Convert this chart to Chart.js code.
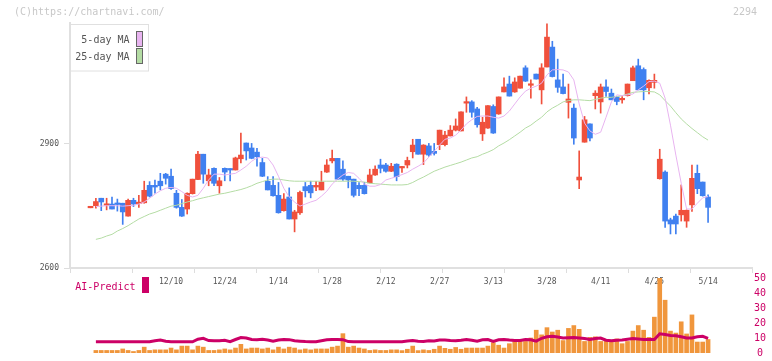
<!DOCTYPE html>
<html><head><meta charset="utf-8">
<script src="https://cdn.jsdelivr.net/npm/chart.js@4.4.1/dist/chart.umd.min.js"></script>
<style>
html,body{margin:0;padding:0;background:#fff;}
#wrap{position:relative;width:772px;height:361px;overflow:hidden;}
canvas{position:absolute;left:0;top:0;}
</style></head><body>
<div id="wrap"><canvas id="main" width="772" height="361"></canvas><canvas id="sub" width="772" height="361"></canvas></div>
<script>
const stockCode = '2294';
const dates = ['11/19','11/20','11/21','11/22','11/25','11/26','11/27','11/28','11/29',
 '12/2','12/3','12/4','12/5','12/6','12/9','12/10','12/11','12/12','12/13','12/16','12/17','12/18','12/19','12/20','12/23','12/24','12/25','12/26','12/27','12/30',
 '1/6','1/7','1/8','1/9','1/10','1/14','1/15','1/16','1/17','1/20','1/21','1/22','1/23','1/24','1/27','1/28','1/29','1/30','1/31',
 '2/3','2/4','2/5','2/6','2/7','2/10','2/12','2/13','2/14','2/17','2/18','2/19','2/20','2/21','2/25','2/26','2/27','2/28',
 '3/3','3/4','3/5','3/6','3/7','3/10','3/11','3/12','3/13','3/14','3/17','3/18','3/19','3/21','3/24','3/25','3/26','3/27','3/28','3/31',
 '4/1','4/2','4/3','4/4','4/7','4/8','4/9','4/10','4/11','4/14','4/15','4/16','4/17','4/18','4/21','4/22','4/23','4/24','4/25','4/28','4/30',
 '5/1','5/2','5/7','5/8','5/9','5/12','5/13','5/14'];
const dateTickLabels = ['12/10','12/24','1/14','1/28','2/12','2/27','3/13','3/28','4/11','4/25','5/14'];
const open = [2745,2750,2768,2751,2754,2756,2756,2725,2763,2755, 2757,2799,2799,2809,2826,2821,2780,2746,2742,2779,
 2813,2874,2810,2840,2798,2840,2839,2836,2863,2901, 2889,2879,2854,2809,2799,2775,2738,2771,2718,2733,
 2796,2799,2795,2788,2831,2858,2864,2838,2821,2814, 2799,2799,2805,2824,2848,2848,2833,2850,2841,2848,
 2880,2910,2874,2894,2881,2897,2897,2918,2932,2930, 2997,3000,2983,2923,2937,2989,2971,3024,3043,3024,
 3033,3082,3040,3067,3029,3084,3132,3053,3036,2999, 2985,2812,2903,2947,3015,3000,3036,3021,3012,3005,
 3015,3051,3087,3078,3034,3047,2815,2831,2716,2725, 2728,2713,2752,2828,2807,2771];
const high = [2747,2768,2768,2768,2771,2766,2756,2766,2768,2775, 2809,2808,2812,2828,2828,2838,2787,2765,2781,2814,
 2881,2874,2838,2841,2818,2841,2839,2867,2925,2901, 2900,2888,2864,2820,2820,2806,2779,2793,2739,2785,
 2806,2809,2809,2833,2861,2884,2864,2858,2821,2814, 2806,2806,2838,2846,2862,2852,2852,2851,2844,2867,
 2910,2910,2897,2900,2900,2932,2929,2943,2959,2976, 3012,3003,2987,2963,2991,2993,3012,3058,3062,3058,
 3062,3087,3053,3067,3092,3188,3146,3103,3067,3043, 2995,2882,2965,2947,3027,3043,3053,3031,3012,3013,
 3043,3086,3103,3082,3053,3067,2886,2834,2720,2730, 2800,2740,2848,2848,2807,2776];
const low = [2745,2744,2738,2740,2742,2737,2705,2725,2748,2746, 2756,2771,2780,2788,2802,2789,2744,2724,2730,2778,
 2813,2804,2798,2798,2780,2810,2810,2836,2853,2860, 2863,2845,2820,2788,2773,2732,2737,2718,2687,2729,
 2771,2769,2786,2788,2830,2853,2813,2811,2793,2771, 2774,2778,2805,2823,2829,2831,2832,2810,2830,2841,
 2865,2874,2849,2869,2872,2885,2894,2918,2930,2930, 2975,2963,2939,2907,2936,2924,2970,3024,3014,3023,
 3033,3049,3009,3055,2995,3084,3060,3023,3019,2961, 2898,2791,2903,2906,2983,2973,3013,3005,2993,2997,
 3014,3051,3029,3005,3019,3033,2814,2698,2682,2682, 2713,2698,2736,2779,2773,2710];
const close = [2747,2760,2759,2754,2742,2753,2735,2763,2754,2758, 2787,2773,2795,2798,2816,2791,2746,2725,2780,2814,
 2874,2826,2824,2804,2810,2831,2836,2865,2872,2882, 2864,2868,2821,2788,2774,2733,2766,2718,2735,2782,
 2786,2781,2799,2807,2848,2864,2814,2814,2812,2775, 2791,2779,2824,2838,2840,2833,2845,2820,2844,2859,
 2896,2874,2896,2872,2876,2932,2920,2932,2942,2976, 2999,2975,2945,2951,2991,2925,3012,3036,3014,3048,
 3062,3050,3042,3055,3082,3156,3061,3035,3020,3007, 2913,2819,2957,2913,3021,3036,3025,3005,3001,3008,
 3043,3082,3029,3029,3052,3052,2862,2713,2706,2706, 2739,2739,2816,2791,2774,2746];
const ma5 = [null,2748,2749,2750,2750,2750,2749,2750,2751,2754, 2759,2768,2778,2786,2792,2794,2792,2784,2775,2771,
 2775,2792,2812,2826,2826,2824,2826,2828,2836,2845, 2857,2865,2867,2865,2848,2821,2792,2771,2759,2749,
 2754,2759,2763,2773,2785,2802,2814,2824,2830,2828, 2816,2802,2797,2797,2801,2812,2816,2820,2825,2830,
 2838,2845,2853,2867,2881,2896,2910,2913,2920,2932, 2947,2957,2965,2966,2966,2963,2961,2966,2978,2995,
 3012,3026,3033,3038,3045,3065,3077,3078,3077,3072, 3053,2995,2949,2930,2922,2927,2963,3000,3017,3015,
 3017,3019,3029,3038,3049,3050,3045,3009,2944,2872, 2804,2742,2742,2756,2769,2772];
const ma25 = [null,2669,2672,2677,2681,2689,2695,2702,2710,2718, 2724,2730,2734,2739,2744,2749,2751,2755,2759,2762,
 2766,2769,2772,2775,2778,2780,2783,2786,2789,2793, 2798,2804,2808,2812,2814,2814,2812,2810,2809,2809,
 2809,2809,2809,2809,2809,2809,2809,2809,2809,2809, 2808,2807,2804,2803,2802,2801,2800,2800,2800,2801,
 2806,2813,2819,2826,2833,2838,2843,2847,2851,2855, 2860,2865,2868,2874,2879,2885,2894,2901,2909,2918,
 2927,2937,2944,2954,2963,2976,2985,2992,3000,3003, 3005,3005,3004,3003,3006,3009,3011,3011,3013,3015,
 3019,3023,3024,3025,3025,3024,3017,3003,2990,2974, 2959,2947,2936,2926,2916,2908];
const volume = [null,1.7,1.7,1.7,1.7,1.7,2.7,1.7,1.0,1.7, 3.9,1.7,2.1,2.1,2.1,3.3,2.1,4.6,4.6,2.1,
 4.6,3.9,1.7,1.7,2.1,2.7,2.1,3.3,5.8,2.7, 3.3,3.3,2.7,3.3,2.1,3.9,2.7,3.9,3.3,2.1,
 2.7,2.1,2.7,2.7,2.7,3.9,4.6,12.9,3.9,4.6, 3.3,2.7,1.7,2.1,1.7,1.7,2.1,2.1,1.6,2.5,
 4.6,1.6,2.1,1.7,2.5,4.6,3.1,2.5,3.7,2.5, 3.3,3.3,3.3,3.3,4.6,6.9,5.2,3.3,6.2,7.7,
 8.3,7.7,10,15.2,12.1,16.9,14,15.2,8.3,16.4, 18.3,15.8,7.7,10.4,10.8,7.7,8.1,8.1,9.4,6.2,
 7.7,14.6,18.3,15.2,10.4,23.9,50,35.2,14.6,13.3, 20.8,12.7,25.4,7.3,7.3,9];
const aiPredict = [null,7.5,7.5,7.5,7.5,7.5,7.5,7.5,7.5,7.5, 7.5,7.5,8.2,8.7,7.8,7.5,7.5,7.5,7.5,7.5,
 9.2,9.8,8.3,8.1,8.1,8.5,7.6,9.0,10.3,10.0, 9.0,8.8,9.1,8.6,7.8,8.6,9.0,8.9,8.2,7.9,
 7.6,7.5,7.5,8.2,8.8,9.0,9.0,8.9,7.6,7.5, 7.5,7.5,7.5,7.5,7.5,7.5,7.5,7.5,7.5,8.0,
 8.3,7.8,7.7,8.1,8.0,8.7,8.7,8.3,8.1,8.5, 9.0,8.5,7.9,8.8,9.0,7.7,8.8,9.0,8.6,8.3,
 8.3,9.0,8.8,7.9,9.8,10.8,11.1,10.6,10.0,10.2, 10.4,10.0,9.6,9.0,9.6,10.0,8.5,8.1,8.5,8.6,
 9.2,9.6,9.4,9.0,9.0,9.0,12.8,12.3,11.7,11.5, 10.8,10.0,10.0,10.8,11.1,9.8];
const priceTicks = [2600, 2900];
const subTicks = [0, 10, 20, 30, 40, 50];

const FONT = '"DejaVu Sans Mono", monospace';
const RED = '#f0503c', BLUE = '#4080f0';
const PINK = '#e8b4f0', GREEN = '#b4dca4', ORANGE = '#f0963c', MAGENTA = '#cc0066';
const X_MIN = -3.82, X_MAX = 123.18;
const idx = dates.map((d, i) => i);
const upColor = ctx => (close[ctx.dataIndex] >= open[ctx.dataIndex] ? RED : BLUE);

const mainOverlay = {
  id: 'mainOverlay',
  afterDraw(chart) {
    const c = chart.ctx;
    c.save();
    c.font = '10px ' + FONT;
    c.textBaseline = 'middle';
    c.fillStyle = '#c8c8c8';
    c.textAlign = 'left';
    c.fillText('(C)https://chartnavi.com/', 14, 12.5);
    c.textAlign = 'right';
    c.fillText(stockCode, 757, 12.5);
    c.fillStyle = '#ffffff';
    c.fillRect(71, 24.5, 77.5, 46.5);
    c.strokeStyle = '#e0e0e0';
    c.lineWidth = 1;
    c.strokeRect(70.5, 24.5, 78, 46.5);
    const ds = chart.data.datasets;
    c.fillStyle = '#555555';
    c.textAlign = 'right';
    c.fillText(ds[0].label, 129.5, 40.5);
    c.fillText(ds[1].label, 129.5, 57);
    c.strokeStyle = '#666666';
    c.fillStyle = PINK; c.fillRect(136.5, 31.5, 6, 15); c.strokeRect(136.5, 31.5, 6, 15);
    c.fillStyle = GREEN; c.fillRect(136.5, 48.5, 6, 15); c.strokeRect(136.5, 48.5, 6, 15);
    c.restore();
  }
};

new Chart(document.getElementById('main'), {
  type: 'bar',
  data: {
    datasets: [
      {type: 'line', label: '5-day MA', data: idx.map(i => ({x: i, y: ma5[i]})), borderColor: PINK, borderWidth: 1,
       pointRadius: 0, xAxisID: 'x', yAxisID: 'y', order: 0},
      {type: 'line', label: '25-day MA', data: idx.map(i => ({x: i, y: ma25[i]})), borderColor: GREEN, borderWidth: 1,
       pointRadius: 0, xAxisID: 'x', yAxisID: 'y', order: 0},
      {label: 'body', data: idx.map(i => ({x: i, y: [open[i], close[i]]})), backgroundColor: upColor,
       barThickness: 5, grouped: false, minBarLength: 1.5, xAxisID: 'x', yAxisID: 'y', order: 1},
      {label: 'wick', data: idx.map(i => ({x: i, y: [low[i], high[i]]})), backgroundColor: upColor,
       barThickness: 1, grouped: false, xAxisID: 'x', yAxisID: 'y', order: 2}
    ]
  },
  options: {
    responsive: false, animation: false, devicePixelRatio: 1,
    layout: {padding: {left: 0, top: 23, right: 20, bottom: 67}},
    plugins: {legend: {display: false}, tooltip: {enabled: false}},
    scales: {
      x: {type: 'linear', min: X_MIN, max: X_MAX, position: 'bottom', weight: 0, offset: false,
          afterBuildTicks: s => { s.ticks = Array.from({length: 12}, (_, k) => ({value: X_MIN + k * (X_MAX - X_MIN) / 11})); },
          ticks: {display: false},
          grid: {display: true, offset: false, drawOnChartArea: false, drawTicks: true, tickLength: 5, color: '#dddddd'},
          border: {display: true, color: '#e0e0e0', width: 2},
          afterFit: s => { s.height = 6; }},
      xd: {type: 'linear', axis: 'x', min: X_MIN, max: X_MAX, position: 'bottom', weight: 1, offset: false,
          afterBuildTicks: s => { s.ticks = idx.filter(i => dateTickLabels.includes(dates[i])).map(v => ({value: v})); },
          ticks: {callback: v => dates[v], font: {family: FONT, size: 8}, color: '#555555', padding: 3,
                  maxRotation: 0, autoSkip: false},
          grid: {display: false, drawTicks: false}, border: {display: false},
          afterFit: s => { s.height = 20; }},
      y: {type: 'linear', min: 2600, max: 3190, position: 'left',
          afterBuildTicks: s => { s.ticks = priceTicks.map(v => ({value: v})); },
          ticks: {callback: v => String(v), font: {family: FONT, size: 8}, color: '#555555', padding: 5},
          grid: {display: true, drawOnChartArea: false, drawTicks: true, tickLength: 6, color: '#dddddd'},
          border: {display: true, color: '#e0e0e0', width: 2},
          afterFit: s => { s.width = 70; }}
    }
  },
  plugins: [mainOverlay]
});

const subOverlay = {
  id: 'subOverlay',
  afterDraw(chart) {
    const c = chart.ctx;
    c.save();
    c.font = '10px ' + FONT;
    c.textBaseline = 'middle';
    c.textAlign = 'right';
    c.fillStyle = MAGENTA;
    c.fillText(chart.data.datasets[0].label, 135.5, 287);
    c.fillRect(142, 277, 7, 16);
    c.restore();
  }
};

new Chart(document.getElementById('sub'), {
  type: 'bar',
  data: {
    datasets: [
      {type: 'line', label: 'AI-Predict', data: idx.map(i => ({x: i, y: aiPredict[i]})), borderColor: MAGENTA,
       borderWidth: 3, pointRadius: 0, xAxisID: 'x', yAxisID: 'y', order: 0},
      {label: 'volume', data: idx.map(i => ({x: i, y: volume[i]})), backgroundColor: ORANGE,
       barThickness: 4, grouped: false, xAxisID: 'x', yAxisID: 'y', order: 1}
    ]
  },
  options: {
    responsive: false, animation: false, devicePixelRatio: 1,
    layout: {padding: {left: 70, top: 278, right: 0, bottom: 3}},
    plugins: {legend: {display: false}, tooltip: {enabled: false}},
    scales: {
      x: {type: 'linear', min: X_MIN, max: X_MAX, display: false, offset: false, grid: {offset: false}},
      y: {type: 'linear', position: 'right', min: 0, max: 50,
          afterBuildTicks: s => { s.ticks = subTicks.map(v => ({value: v})); },
          ticks: {callback: v => String(v), font: {family: FONT, size: 10}, color: MAGENTA, padding: 2, crossAlign: 'center'},
          grid: {display: false, drawTicks: false}, border: {display: false},
          afterFit: s => { s.width = 20; }}
    }
  },
  plugins: [subOverlay]
});
</script>
</body></html>
